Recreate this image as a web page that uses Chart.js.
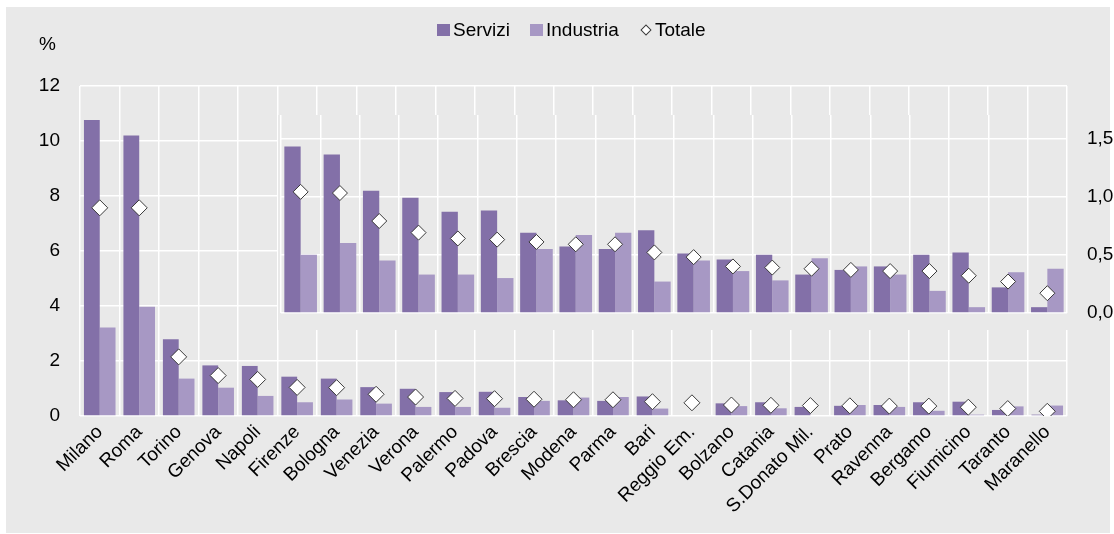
<!DOCTYPE html>
<html>
<head>
<meta charset="utf-8">
<script src="https://cdn.jsdelivr.net/npm/chart.js@4.4.1/dist/chart.umd.min.js"></script>
<style>
  body {
    margin: 0;
    background: #fff;
    width: 1114px;
    height: 534px;
    position: relative;
    overflow: hidden;
    font-family: "Liberation Sans", Arial, sans-serif;
  }
  #panel { position: absolute; left: 6px; top: 7px; width: 1104px; height: 526px; background: #e9e9e9; }
  canvas { position: absolute; left: 0; top: 0; }
  #unit { position: absolute; left: 39px; top: 33px; font-size: 19px; line-height: 22px; }
  #legend {
    position: absolute; left: 437px; top: 19px;
    display: flex; align-items: center;
    font-size: 19px; line-height: 22px;
  }
  .item { display: flex; align-items: center; margin-right: 20px; }
  .swatch { width: 13px; height: 12px; margin-right: 3px; }
  .diamond {
    width: 6px; height: 6px; margin: 0 5px 0 3px;
    background: #fff; border: 1px solid #3a3a3a; transform: rotate(45deg);
  }
</style>
</head>
<body>
<div id="panel"></div>
<canvas id="mainChart" width="1114" height="534"></canvas>
<canvas id="zoomChart" width="1114" height="534"></canvas>
<div id="unit">%</div>
<div id="legend">
  <div class="item"><span class="swatch" style="background:#8370a8"></span>Servizi</div>
  <div class="item"><span class="swatch" style="background:#a798c4"></span>Industria</div>
  <div class="item"><span class="diamond"></span>Totale</div>
</div>
<script>
const cities = ["Milano", "Roma", "Torino", "Genova", "Napoli", "Firenze", "Bologna", "Venezia",
    "Verona", "Palermo", "Padova", "Brescia", "Modena", "Parma", "Bari", "Reggio Em.", "Bolzano",
    "Catania", "S.Donato Mil.", "Prato", "Ravenna", "Bergamo", "Fiumicino", "Taranto", "Maranello"];
const servizi = [10.76, 10.2, 2.79, 1.84, 1.82, 1.43, 1.36, 1.05, 0.99, 0.87, 0.88, 0.69, 0.57,
    0.55, 0.71, 0.51, 0.46, 0.5, 0.33, 0.37, 0.4, 0.5, 0.52, 0.22, 0.05];
const industria = [3.22, 3.97, 1.36, 1.03, 0.73, 0.5, 0.6, 0.45, 0.33, 0.33, 0.3, 0.55, 0.67,
    0.69, 0.27, 0.45, 0.36, 0.28, 0.47, 0.4, 0.33, 0.19, 0.05, 0.35, 0.38];
const totale = [7.57, 7.57, 2.15, 1.47, 1.33, 1.04, 1.03, 0.79, 0.69, 0.64, 0.63, 0.61, 0.59,
    0.59, 0.52, 0.48, 0.4, 0.39, 0.38, 0.37, 0.36, 0.36, 0.32, 0.27, 0.17];
// bars that the big chart leaves out (the zoom still shows them)
const missingServizi = ["Reggio Em."];
const missingIndustria = ["Reggio Em.", "S.Donato Mil."];
const zoomFrom = "Firenze";
const mainTicks = [0, 2, 4, 6, 8, 10, 12];
const zoomTicks = [0, 0.5, 1, 1.5];

const DARK = "#8370a8";
const LIGHT = "#a798c4";
const PANEL_BG = "#e9e9e9";

Chart.defaults.font.family = "'Liberation Sans', Arial, sans-serif";
Chart.defaults.font.size = 19;
Chart.defaults.color = "#000";

const serviziMain = servizi.map((v, i) => (missingServizi.includes(cities[i]) ? null : v));
const industriaMain = industria.map((v, i) => (missingIndustria.includes(cities[i]) ? null : v));
const start = cities.indexOf(zoomFrom);

function totaleDataset(data, radius) {
    return {
        type: "line",
        label: "Totale",
        data: data,
        showLine: false,
        pointStyle: "rectRot",
        pointRadius: radius,
        pointBackgroundColor: "#fff",
        pointBorderColor: "#3a3a3a",
        pointBorderWidth: 1,
        order: 0,
    };
}

const whiteGrid = { color: "#fff", lineWidth: 1.5, drawTicks: false };

new Chart(document.getElementById("mainChart"), {
    type: "bar",
    data: {
        labels: cities,
        datasets: [
            totaleDataset(totale, 8),
            { label: "Servizi", data: serviziMain, backgroundColor: DARK, order: 1 },
            { label: "Industria", data: industriaMain, backgroundColor: LIGHT, order: 1 },
        ],
    },
    options: {
        responsive: false,
        animation: false,
        devicePixelRatio: 1,
        layout: { padding: { top: 86, right: 47, left: 0, bottom: 0 } },
        datasets: { bar: { categoryPercentage: 0.8, barPercentage: 1 } },
        plugins: { legend: { display: false }, tooltip: { enabled: false } },
        scales: {
            x: {
                grid: whiteGrid,
                border: { display: false },
                ticks: { autoSkip: false, maxRotation: 45, minRotation: 45, padding: 5 },
                afterFit: (s) => { s.height = 118; },
            },
            y: {
                min: 0,
                max: 12,
                grid: whiteGrid,
                border: { display: false },
                ticks: { padding: 20 },
                afterBuildTicks: (s) => { s.ticks = mainTicks.map((v) => ({ value: v })); },
                afterFit: (s) => { s.width = 80; },
            },
        },
    },
});

const insetBackground = {
    id: "insetBackground",
    beforeDraw(chart) {
        const { ctx, chartArea } = chart;
        ctx.save();
        ctx.fillStyle = PANEL_BG;
        ctx.fillRect(chartArea.left - 3, chartArea.top, chartArea.right - chartArea.left + 4,
            chartArea.bottom - chartArea.top + 17);
        ctx.restore();
    },
};

new Chart(document.getElementById("zoomChart"), {
    type: "bar",
    data: {
        labels: cities.slice(start),
        datasets: [
            totaleDataset(totale.slice(start), 7.5),
            { label: "Servizi", data: servizi.slice(start), backgroundColor: DARK, order: 1 },
            { label: "Industria", data: industria.slice(start), backgroundColor: LIGHT, order: 1 },
        ],
    },
    options: {
        responsive: false,
        animation: false,
        devicePixelRatio: 1,
        layout: { padding: { top: 115, right: 0, left: 281, bottom: 0 } },
        datasets: { bar: { categoryPercentage: 0.83, barPercentage: 1 } },
        plugins: { legend: { display: false }, tooltip: { enabled: false } },
        scales: {
            x: {
                grid: whiteGrid,
                border: { display: false },
                ticks: { display: false },
                afterFit: (s) => { s.height = 534 - 313; },
            },
            y: {
                position: "right",
                min: 0,
                max: 1.7,
                grid: whiteGrid,
                border: { display: false },
                ticks: {
                    padding: 20,
                    callback: (v) => v.toFixed(1).replace(".", ","),
                },
                afterBuildTicks: (s) => { s.ticks = zoomTicks.map((v) => ({ value: v })); },
                afterFit: (s) => { s.width = 47; },
            },
        },
    },
    plugins: [insetBackground],
});
</script>
</body>
</html>
